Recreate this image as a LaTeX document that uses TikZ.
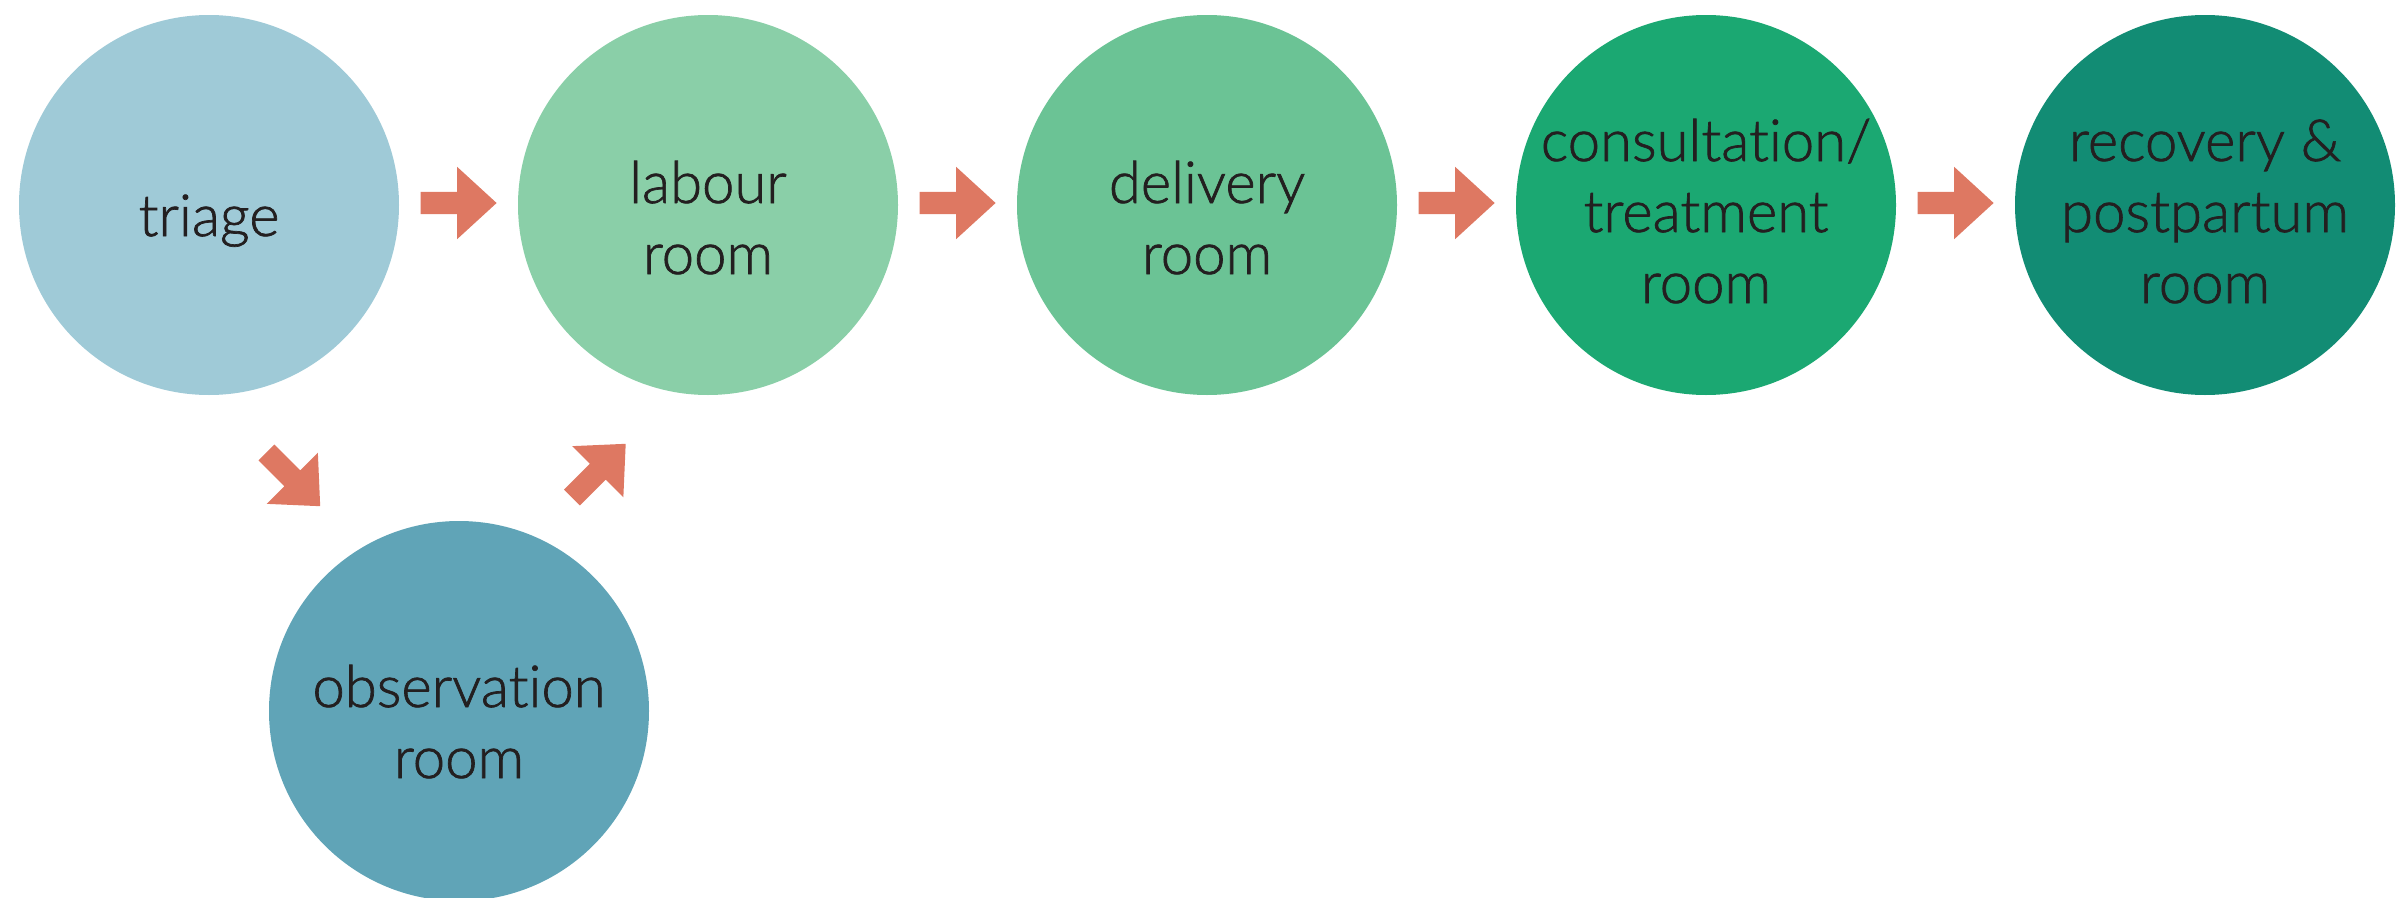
\documentclass[tikz,border=0pt]{standalone}
\usepackage{fontspec}
\IfFontExistsTF{Lato Light}{\newfontfamily\lblfont{Lato Light}[Ligatures=NoCommon,FakeBold=1.2]}{\newfontfamily\lblfont{Lato}[Ligatures=NoCommon]}
\usetikzlibrary{shapes.arrows,calc}
\definecolor{ctriage}{HTML}{9FCAD7}
\definecolor{clabour}{HTML}{8ACFA8}
\definecolor{cdelivery}{HTML}{6BC395}
\definecolor{cconsult}{HTML}{1BA872}
\definecolor{crecovery}{HTML}{128C74}
\definecolor{cobs}{HTML}{60A4B7}
\definecolor{carrow}{HTML}{DE7862}
\definecolor{ctext}{HTML}{231F20}
\tikzset{
  room/.style={circle, draw=none, minimum size=380pt, inner sep=0pt},
  lbl/.style={text=ctext, align=center, anchor=base, inner sep=0pt,
    font=\lblfont\fontsize{58}{71}\selectfont},
  blockarrow/.style={single arrow, fill=carrow, draw=none, inner xsep=0pt,
    inner ysep=11pt, minimum height=76pt, minimum width=72pt,
    single arrow head extend=25pt, single arrow tip angle=85, anchor=center},
}
\begin{document}
\begin{tikzpicture}[x=1pt,y=-1pt]
\useasboundingbox (0,0) rectangle (2399,897);
\node[room, fill=ctriage]   (triage)   at (209,205)  {};
\node[room, fill=clabour]   (labour)   at (708,205)  {};
\node[room, fill=cdelivery] (delivery) at (1207,205) {};
\node[room, fill=cconsult]  (consult)  at (1706,205) {};
\node[room, fill=crecovery] (recovery) at (2205,205) {};
\node[room, fill=cobs]      (obs)      at (459,711)  {};

\node[lbl] (triage-t)   at ($(triage)+(0,31)$)   {triage};
\node[lbl] (labour-t)   at ($(labour)+(0,69)$)   {labour\\room};
\node[lbl] (delivery-t) at ($(delivery)+(0,69)$) {delivery\\room};
\node[lbl] (consult-t)  at ($(consult)+(0,98)$)  {consultation/\\treatment\\room};
\node[lbl] (recovery-t) at ($(recovery)+(0,98)$) {recovery \&\\postpartum\\room};
\node[lbl] (obs-t)      at ($(obs)+(0,67)$)      {observation\\room};

\node[blockarrow] (a1) at ($(triage)!0.5!(labour)+(-6,-2)$) {};
\node[blockarrow] (a2) at ($(labour)!0.5!(delivery)+(-6,-2)$) {};
\node[blockarrow] (a3) at ($(delivery)!0.5!(consult)+(-6,-2)$) {};
\node[blockarrow] (a4) at ($(consult)!0.5!(recovery)+(-6,-2)$) {};
\node[blockarrow, rotate=-45] (a5) at ($(triage)!0.5!(obs)+(-45,17)$) {};
\node[blockarrow, rotate=45]  (a6) at ($(labour)!0.5!(obs)+(11,17)$) {};
\end{tikzpicture}
\end{document}
